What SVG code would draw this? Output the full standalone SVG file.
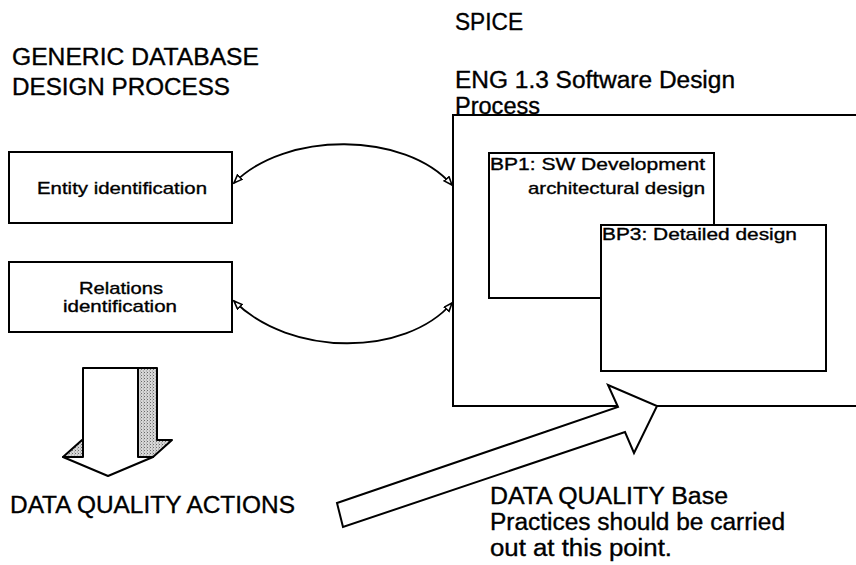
<svg xmlns="http://www.w3.org/2000/svg" width="856" height="565" viewBox="0 0 856 565">
  <defs>
    <style>
      text { font-family: "Liberation Sans", Arial, sans-serif; fill: #000; stroke: #000; stroke-width: 0.35; }
      .big { font-size: 23px; }
      .small { font-size: 17px; }
      .box { fill: #fff; stroke: #000; stroke-width: 2; }
      .edge { fill: none; stroke: #000; stroke-width: 2; }
      .link { fill: none; stroke: #000; stroke-width: 1.8; marker-start: url(#open-tri); marker-end: url(#open-tri); }
      .shade { fill: url(#stipple); stroke: #000; stroke-width: 2; stroke-linejoin: round; }
    </style>
    <marker id="open-tri" markerUnits="userSpaceOnUse" markerWidth="12" markerHeight="10" refX="9" refY="4" orient="auto-start-reverse">
      <path d="M0.8,0.8 L9,4 L0.8,7.2 Z" fill="#fff" stroke="#000" stroke-width="1.6"/>
    </marker>
    <pattern id="stipple" patternUnits="userSpaceOnUse" width="3" height="3">
      <rect width="3" height="3" fill="#d6d6d6"/>
      <rect x="0" y="0" width="1" height="1" fill="#6a6a6a"/>
      <rect x="2" y="1.5" width="1" height="1" fill="#9a9a9a"/>
    </pattern>
  </defs>

  <rect width="856" height="565" fill="#fff"/>

  <!-- left-hand column: generic database design process -->
  <g id="title-generic">
    <text class="big" x="12" y="65" textLength="247" lengthAdjust="spacingAndGlyphs">GENERIC DATABASE</text>
    <text class="big" x="12" y="95" textLength="218" lengthAdjust="spacingAndGlyphs">DESIGN PROCESS</text>
  </g>

  <g id="entity-identification">
    <rect class="box" x="9" y="152" width="223" height="71"/>
    <text class="small" x="37" y="194" textLength="170" lengthAdjust="spacingAndGlyphs">Entity identification</text>
  </g>

  <g id="relations-identification">
    <rect class="box" x="9" y="262" width="223" height="70"/>
    <text class="small" x="79" y="294" textLength="84" lengthAdjust="spacingAndGlyphs">Relations</text>
    <text class="small" x="63" y="312" textLength="114" lengthAdjust="spacingAndGlyphs">identification</text>
  </g>

  <!-- 3D block arrow pointing down -->
  <g id="data-quality-actions">
    <polygon class="shade" points="138,368 157,368 157,440 172,440 153,457 138,457"/>
    <polygon class="shade" points="63,457 82,440 83,440 83,457"/>
    <polygon class="box" stroke-linejoin="round" points="83,368 138,368 138,457 153,457 108,476 63,457 83,457"/>
    <text class="big" x="10" y="513" textLength="285" lengthAdjust="spacingAndGlyphs">DATA QUALITY ACTIONS</text>
  </g>

  <!-- right-hand column: SPICE process -->
  <g id="title-spice">
    <text class="big" x="455" y="30" textLength="68" lengthAdjust="spacingAndGlyphs">SPICE</text>
    <text class="big" x="455" y="88" textLength="280" lengthAdjust="spacingAndGlyphs">ENG 1.3 Software Design</text>
    <text class="big" x="455" y="114" textLength="85" lengthAdjust="spacingAndGlyphs">Process</text>
  </g>

  <g id="eng-1-3">
    <path class="edge" d="M856,115 L453,115 L453,406 L856,406"/>
  </g>

  <g id="bp1">
    <rect class="box" x="489" y="153" width="225" height="145"/>
    <text class="small" x="490" y="170" textLength="215" lengthAdjust="spacingAndGlyphs">BP1: SW Development</text>
    <text class="small" x="528" y="194" textLength="177" lengthAdjust="spacingAndGlyphs">architectural design</text>
  </g>

  <g id="bp3">
    <rect class="box" x="601" y="225" width="225" height="146"/>
    <text class="small" x="602" y="240" textLength="195" lengthAdjust="spacingAndGlyphs">BP3: Detailed design</text>
  </g>

  <!-- connectors between the two processes -->
  <g id="connectors">
    <path class="link" d="M234,183 C285,131 405,131 452,185"/>
    <path class="link" d="M234,301 C290,357 405,357 452,303"/>
  </g>

  <!-- wide arrow pointing at the SPICE process -->
  <g id="base-practices">
    <polygon class="box" stroke-linejoin="miter" points="337,503 618,407 608,385 657,406 634,453 625,432 343,527"/>
    <text class="big" x="490" y="504" textLength="238" lengthAdjust="spacingAndGlyphs">DATA QUALITY Base</text>
    <text class="big" x="490" y="530" textLength="295" lengthAdjust="spacingAndGlyphs">Practices should be carried</text>
    <text class="big" x="490" y="556" textLength="182" lengthAdjust="spacingAndGlyphs">out at this point.</text>
  </g>
</svg>
